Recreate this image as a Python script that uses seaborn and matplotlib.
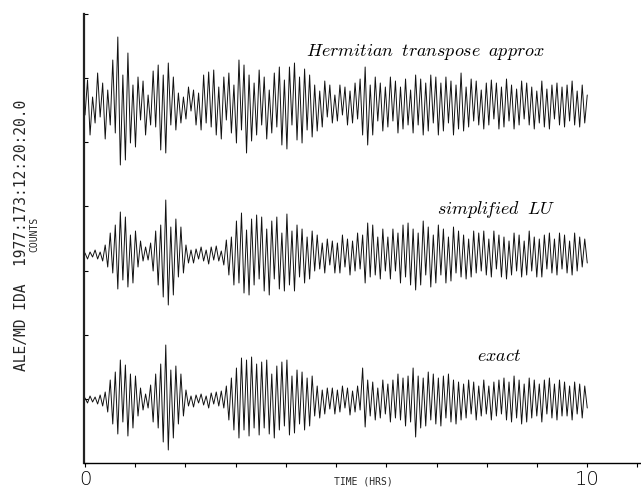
import numpy as np
import pandas as pd
import matplotlib
matplotlib.use("Agg")
import matplotlib.pyplot as plt
import seaborn as sns

# ---- data (amplitudes in counts; successive extrema) ----
hermitian = [
    -10, 25, -30, 8, -18, 32, -12, 22, -34, 15,
    -20, 45, -28, 68, -60, 30, -55, 52, -38, 20,
    -42, 28, -15, 24, -30, 10, -20, 34, -22, 40,
    -45, 30, -48, 42, -20, 28, -25, 12, -18, 8,
    -14, 18, -6, 15, -20, 12, -25, 30, -18, 33,
    -22, 35, -30, 18, -34, 28, -15, 32, -28, 20,
    -38, 45, -25, 40, -48, 30, -36, 22, -30, 35,
    -20, 28, -34, 15, -28, 32, -22, 38, -40, 25,
    -44, 38, -20, 42, -35, 28, -38, 36, -25, 30,
    -32, 20, -26, 14, -22, 24, -12, 20, -18, 10,
    -16, 20, -10, 18, -20, 14, -18, 22, -14, 26,
    -30, 38, -40, 20, -30, 28, -16, 22, -26, 18,
    -22, 28, -16, 24, -28, 18, -24, 26, -20, 15,
    -28, 30, -20, 26, -30, 22, -26, 30, -18, 28,
    -30, 22, -26, 28, -18, 24, -30, 20, -24, 32,
    -26, 18, -22, 26, -16, 24, -20, 15, -24, 22,
    -20, 25, -14, 22, -24, 18, -22, 26, -16, 20,
    -24, 16, -20, 24, -14, 22, -20, 18, -24, 14,
    -18, 24, -22, 16, -24, 20, -14, 22, -20, 18,
    -22, 20, -16, 24, -20, 14, -22, 20, -18, 10,
]
simplified_lu = [
    2, -4, 3, -2, 5, -4, 3, -6, 10, -12,
    22, -18, 30, -34, 43, -25, 38, -32, 20, -28,
    24, -12, 14, -6, 8, -5, 12, -16, 24, -30,
    30, -42, 55, -50, 28, -40, 36, -22, 28, -18,
    10, -8, 5, -8, 6, -4, 8, -6, 5, -9,
    8, -5, 9, -6, 4, -10, 15, -20, 18, -30,
    34, -28, 42, -38, 25, -40, 36, -30, 40, -24,
    38, -36, 26, -40, 34, -24, 38, -34, 22, -36,
    41, -30, 24, -36, 30, -22, 26, -28, 18, -24,
    24, -16, 20, -14, 12, -18, 16, -10, 14, -18,
    12, -18, 20, -12, 16, -20, 14, -16, 22, -14,
    20, -28, 32, -22, 30, -20, 18, -24, 26, -16,
    18, -24, 26, -16, 22, -28, 30, -22, 32, -30,
    26, -35, 22, -30, 34, -20, 28, -32, 20, -28,
    30, -20, 26, -28, 18, -26, 28, -18, 24, -22,
    20, -24, 16, -22, 24, -18, 22, -16, 24, -20,
    16, -22, 24, -14, 20, -22, 18, -24, 14, -20,
    22, -16, 20, -22, 14, -20, 24, -16, 18, -22,
    16, -22, 20, -14, 22, -18, 16, -20, 22, -14,
    20, -18, 14, -20, 22, -16, 18, -12, 16, -8,
]
exact = [
    2, -3, 4, -2, 3, -4, 5, -6, 8, -12,
    20, -24, 28, -34, 40, -22, 35, -36, 26, -28,
    24, -16, 12, -10, 6, -8, 15, -22, 26, -28,
    36, -42, 55, -50, 30, -38, 34, -24, 26, -16,
    10, -6, 4, -7, 5, -3, 6, -5, 4, -8,
    7, -4, 8, -6, 9, -8, 14, -20, 22, -30,
    32, -38, 42, -30, 40, -36, 43, -28, 36, -35,
    38, -28, 40, -34, 26, -38, 34, -30, 38, -26,
    40, -35, 24, -33, 30, -24, 28, -30, 22, -26,
    24, -16, 14, -18, 10, -14, 12, -9, 12, -14,
    10, -12, 14, -8, 12, -15, 9, -12, 14, -10,
    32, -27, 20, -16, 18, -20, 12, -18, 20, -14,
    16, -22, 20, -18, 26, -20, 22, -26, 24, -22,
    32, -37, 24, -28, 22, -26, 28, -20, 26, -24,
    22, -26, 24, -18, 26, -22, 20, -24, 18, -20,
    16, -18, 20, -14, 18, -20, 14, -16, 20, -14,
    14, -20, 18, -16, 20, -14, 22, -20, 18, -22,
    24, -18, 20, -24, 16, -22, 22, -18, 20, -16,
    16, -22, 20, -14, 22, -18, 16, -20, 20, -16,
    18, -16, 14, -20, 18, -14, 16, -18, 14, -8,
]
trace_names = ["Hermitian transpose approx", "simplified LU", "exact"]
trace_labels = [r"$Hermitian\;\; transpose\;\; approx$", r"$simpli\!fied\;\; LU$", r"$exact$"]
t_start, t_end = 0.0, 10.0
x_tick_values = list(range(0, 12))
x_tick_labels = ["0", "", "", "", "", "", "", "", "", "", "10", ""]
y_label_main = "ALE/MD IDA  1977:173:12:20:20.0"
y_label_sub = "COUNTS"
x_label = "TIME (HRS)"

# ---- layout ----
baselines = [358, 208, 63]
label_pos = [(4.40, 411), (7.0, 254), (7.81, 107)]

sns.set_style("ticks")
plt.rcParams["mathtext.fontset"] = "cm"
plt.rcParams["font.family"] = ["DejaVu Sans"]

fig = plt.figure(figsize=(6.41, 4.92), dpi=100)
ax = fig.add_axes([84 / 641, 29 / 492, (641 - 84) / 641, 449 / 492])

frames = []
for name, vals, base in zip(trace_names, [hermitian, simplified_lu, exact], baselines):
    v = np.asarray(vals, dtype=float)
    t = np.linspace(t_start, t_end, len(v))
    frames.append(pd.DataFrame({"time": t, "value": v + base, "trace": name}))
df = pd.concat(frames, ignore_index=True)

sns.lineplot(data=df, x="time", y="value", units="trace", estimator=None,
             sort=False, color="#111111", lw=0.7, ax=ax, legend=False)

for lab, (lx, ly) in zip(trace_labels, label_pos):
    ax.text(lx, ly, lab, ha="left", va="center", fontsize=13, color="black")

ax.set_xlim(-0.02, 11.07)
ax.set_ylim(0, 449)
ax.set_xticks(x_tick_values)
ax.set_xticklabels(x_tick_labels, fontsize=14, fontfamily="DejaVu Sans", fontweight="light")
ax.set_yticks(np.arange(0, 450, 64.14))
ax.set_yticklabels([])
ax.tick_params(axis="x", direction="out", length=3, width=0.8, pad=2, colors="black")
ax.tick_params(axis="y", direction="in", length=3, width=0.8, colors="black")
for s in ["top", "right"]:
    ax.spines[s].set_visible(False)
ax.spines["left"].set_linewidth(1.6)
ax.spines["left"].set_color("#222222")
ax.spines["bottom"].set_linewidth(1.0)
ax.spines["bottom"].set_color("black")
ax.set_xlabel("")
ax.set_ylabel("")

fig.text(363 / 641, 1 - 481 / 492, x_label, ha="center", va="center",
         fontsize=7, fontfamily="DejaVu Sans Mono")
fig.text(22 / 641, 1 - 235 / 492, y_label_main, ha="center", va="center",
         rotation=90, fontsize=10.5, fontfamily="DejaVu Sans Mono")
fig.text(34 / 641, 1 - 234 / 492, y_label_sub, ha="center", va="center",
         rotation=90, fontsize=7, fontfamily="DejaVu Sans Mono")

fig.savefig("out.png", dpi=100)
